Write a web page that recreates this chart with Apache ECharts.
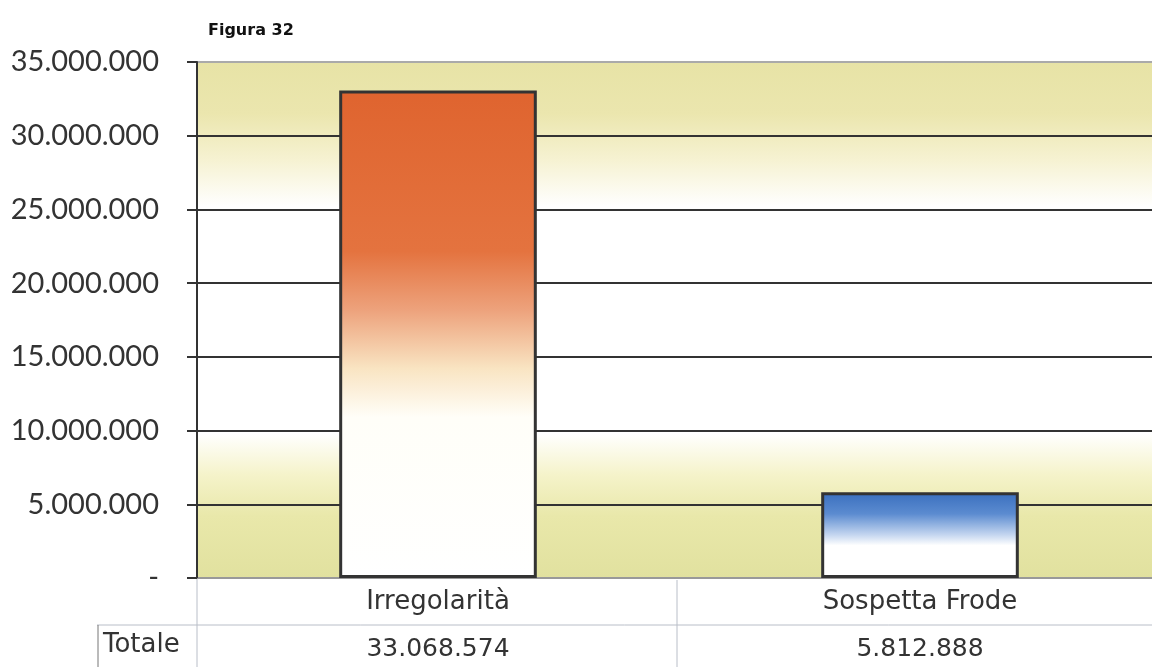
<!DOCTYPE html>
<html>
<head>
<meta charset="utf-8">
<script src="https://cdn.jsdelivr.net/npm/echarts@6/dist/echarts.min.js"></script>
<style>
html,body{margin:0;padding:0;background:#fff;}
#chart{width:1152px;height:667px;}
</style>
</head>
<body>
<div id="chart"></div>
<script>
// dati della figura
var categorie = ['Irregolarità', 'Sospetta Frode'];
var valori = [33068574, 5812888];
var etichettaRiga = 'Totale';

function fmt(v) {
    if (v === 0) return '-';
    return String(v).replace(/\B(?=(\d{3})+(?!\d))/g, '.');
}

var myChart = echarts.init(document.getElementById('chart'));

var fondoGriglia = new echarts.graphic.LinearGradient(0, 0, 0, 1, [
    {offset: 0, color: '#e7e3a6'},
    {offset: 0.1, color: '#ebe6ae'},
    {offset: 0.19, color: '#f6f2d2'},
    {offset: 0.28, color: '#ffffff'},
    {offset: 0.72, color: '#ffffff'},
    {offset: 0.8, color: '#f5f3ca'},
    {offset: 0.88, color: '#e9e8aa'},
    {offset: 1, color: '#e1e19f'}
]);

var coloriBarre = [
    new echarts.graphic.LinearGradient(0, 0, 0, 1, [
        {offset: 0, color: '#df642f'},
        {offset: 0.33, color: '#e4733f'},
        {offset: 0.45, color: '#eda27c'},
        {offset: 0.57, color: '#f9e4c2'},
        {offset: 0.67, color: '#fffef8'},
        {offset: 1, color: '#ffffff'}
    ]),
    new echarts.graphic.LinearGradient(0, 0, 0, 1, [
        {offset: 0, color: '#3a6fbe'},
        {offset: 0.25, color: '#5b8bd0'},
        {offset: 0.5, color: '#c6d7f0'},
        {offset: 0.62, color: '#ffffff'},
        {offset: 1, color: '#ffffff'}
    ])
];

var fontNum = 'Lato, "Open Sans", sans-serif';
var fontTab = '"DejaVu Sans", sans-serif';
var grigio = '#b9bec8';

option = {
    backgroundColor: '#ffffff',
    animation: false,
    title: {
        text: 'Figura 32',
        left: 203,
        top: 18,
        textStyle: {fontFamily: fontTab, fontSize: 16, fontWeight: 'bold', color: '#111'}
    },
    grid: {
        left: 197, right: -9, top: 62, bottom: 89,
        outerBoundsMode: 'none',
        show: true, backgroundColor: fondoGriglia, borderWidth: 0
    },
    xAxis: [
        {
            type: 'category',
            data: categorie,
            axisLine: {show: true, lineStyle: {color: '#999', width: 1}},
            axisTick: {show: false},
            axisLabel: {margin: 11, fontFamily: fontTab, fontSize: 26, color: '#333'}
        },
        {
            type: 'category',
            position: 'bottom',
            offset: 46,
            data: valori.map(fmt),
            axisLine: {show: false},
            axisTick: {show: false},
            axisLabel: {margin: 13, fontFamily: fontTab, fontSize: 25, color: '#333'}
        }
    ],
    yAxis: {
        type: 'value',
        min: 0,
        max: 35000000,
        interval: 5000000,
        axisLine: {show: true, lineStyle: {color: '#333', width: 2}},
        axisTick: {show: true, length: 10, lineStyle: {color: '#333', width: 2}},
        axisLabel: {margin: 38, fontFamily: fontNum, fontSize: 29, color: '#333', formatter: fmt},
        splitLine: {show: true, lineStyle: {color: ['#999', '#333', '#333', '#333', '#333', '#333', '#333', '#aaa'], width: 2}}
    },
    series: [
        {
            type: 'bar',
            xAxisIndex: 0,
            barWidth: '41%',
            data: valori.map(function (v, i) {
                return {value: v, itemStyle: {color: coloriBarre[i]}};
            }),
            itemStyle: {borderColor: '#333', borderWidth: 3}
        }
    ],
    graphic: [
        {type: 'line', shape: {x1: 97, y1: 625, x2: 1152, y2: 625}, style: {stroke: grigio, lineWidth: 1}},
        {type: 'line', shape: {x1: 197, y1: 578, x2: 197, y2: 667}, style: {stroke: grigio, lineWidth: 1}},
        {type: 'line', shape: {x1: 677, y1: 580, x2: 677, y2: 667}, style: {stroke: grigio, lineWidth: 1}},
        {type: 'line', shape: {x1: 98, y1: 625, x2: 98, y2: 667}, style: {stroke: '#777', lineWidth: 1}},
        {type: 'text', left: 103, top: 632, style: {text: etichettaRiga, font: '26px ' + fontTab, fill: '#333'}}
    ]
};

myChart.setOption(option);
</script>
</body>
</html>
